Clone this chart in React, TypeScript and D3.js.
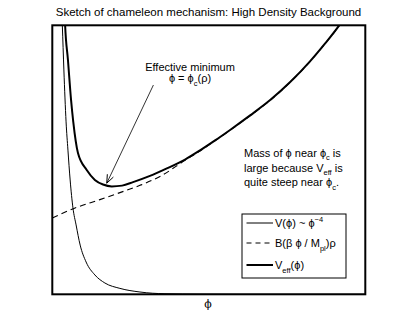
import React from "react";
import * as d3 from "d3";

// phi values (arbitrary units, 0..10) and potential values (arbitrary units, 0..10)
const vPhi = [0.30, 0.32, 0.37, 0.44, 0.50, 0.57, 0.66, 0.76, 0.89, 1.08, 1.36, 1.68, 2.16, 2.80, 3.60, 4.72, 6.0, 8.0, 10.0];
const vVal = [10.6, 10.0, 8.34, 6.41, 5.36, 4.25, 3.21, 2.58, 1.83, 1.20, 0.72, 0.42, 0.22, 0.085, 0.02, 0.005, 0.0, 0.0, 0.0];

const bPhi = [0.0, 0.69, 1.52, 2.16, 2.80, 3.44, 4.24, 4.72, 5.20, 5.68, 6.32, 6.96, 7.60, 8.24, 8.71, 9.16, 9.5];
const bVal = [2.84, 3.19, 3.52, 3.78, 4.05, 4.38, 4.98, 5.33, 5.71, 6.10, 6.64, 7.21, 7.88, 8.66, 9.31, 9.98, 10.6];

const effPhi = [0.39, 0.41, 0.50, 0.60, 0.67, 0.82, 1.10, 1.36, 1.62, 1.90, 2.23, 2.58, 3.12, 3.66, 4.24, 4.72, 5.20, 5.68, 6.32, 6.96, 7.60, 8.24, 8.71, 9.16, 9.5];
const effVal = [10.6, 10.0, 8.71, 7.22, 6.41, 5.25, 4.62, 4.25, 4.08, 4.01, 4.04, 4.17, 4.40, 4.68, 5.01, 5.35, 5.72, 6.11, 6.65, 7.22, 7.89, 8.67, 9.32, 9.99, 10.6];

// annotation arrow: from text to the effective minimum
const arrowFrom = [3.23, 7.78];
const arrowTo = [1.74, 4.13];

const title = "Sketch of chameleon mechanism: High Density Background";

export default function App() {
  const W = 403, H = 332;
  const x = d3.scaleLinear().domain([0, 10]).range([52.3, 365.3]);
  const y = d3.scaleLinear().domain([0, 10]).range([294.3, 25.3]);

  const line = d3
    .line<[number, number]>()
    .x((d) => x(d[0]))
    .y((d) => y(d[1]))
    .curve(d3.curveMonotoneX);

  const vPath = line(vPhi.map((p, i) => [p, vVal[i]]) as [number, number][]) || "";
  const bPath = line(bPhi.map((p, i) => [p, bVal[i]]) as [number, number][]) || "";
  const effPath = line(effPhi.map((p, i) => [p, effVal[i]]) as [number, number][]) || "";

  const ax0 = x(arrowFrom[0]), ay0 = y(arrowFrom[1]);
  const ax1 = x(arrowTo[0]), ay1 = y(arrowTo[1]);
  const ang = Math.atan2(ay1 - ay0, ax1 - ax0);
  const hl = 9, hw = 0.38;
  const h1 = [ax1 - hl * Math.cos(ang - hw), ay1 - hl * Math.sin(ang - hw)];
  const h2 = [ax1 - hl * Math.cos(ang + hw), ay1 - hl * Math.sin(ang + hw)];

  const font = "'Liberation Sans', Arial, Helvetica, sans-serif";
  const fs = 11;
  const phi = "\u03D5";

  const lgX = 242, lgY = 214, lgW = 104, lgH = 64;
  const rows = [223, 243, 265];

  return (
    <svg width={W} height={H} style={{ position: "absolute", left: 0, top: 0, background: "#fff" }} fontFamily={font} fill="#000">
      <defs>
        <clipPath id="plotclip">
          <rect x={x(0)} y={y(10)} width={x(10) - x(0)} height={y(0) - y(10)} />
        </clipPath>
      </defs>
      <text x={208.5} y={15.5} textAnchor="middle" fontSize={11.5}>{title}</text>

      <g clipPath="url(#plotclip)">
        <path d={bPath} fill="none" stroke="#000" strokeWidth={1.1} strokeDasharray="6,4" />
        <path d={vPath} fill="none" stroke="#000" strokeWidth={1} />
        <path d={effPath} fill="none" stroke="#000" strokeWidth={2} />
      </g>

      <rect x={x(0)} y={y(10)} width={x(10) - x(0)} height={y(0) - y(10)} fill="none" stroke="#000" strokeWidth={2} />

      {/* arrow */}
      <line x1={ax0} y1={ay0} x2={ax1} y2={ay1} stroke="#000" strokeWidth={0.8} />
      <polyline points={`${h1[0]},${h1[1]} ${ax1},${ay1} ${h2[0]},${h2[1]}`} fill="none" stroke="#000" strokeWidth={1} />

      <text x={190} y={71} textAnchor="middle" fontSize={fs}>Effective minimum</text>
      <text x={190} y={82} textAnchor="middle" fontSize={fs}>
        {phi} = {phi}
        <tspan fontSize={7.5} dy={3.5}>c</tspan>
        <tspan dy={-3.5}>(ρ)</tspan>
      </text>

      <text x={244} y={156.5} fontSize={fs}>
        Mass of {phi} near {phi}
        <tspan fontSize={7.5} dy={3.5}>c</tspan>
        <tspan dy={-3.5}> is</tspan>
      </text>
      <text x={244} y={171.5} fontSize={fs}>
        large because V
        <tspan fontSize={7.5} dy={3.5}>eff</tspan>
        <tspan dy={-3.5}> is</tspan>
      </text>
      <text x={244} y={186} fontSize={fs}>
        quite steep near {phi}
        <tspan fontSize={7.5} dy={3.5}>c</tspan>
        <tspan dy={-3.5}>.</tspan>
      </text>

      {/* legend */}
      <rect x={lgX} y={lgY} width={lgW} height={lgH} fill="#fff" stroke="#000" strokeWidth={1} />
      <line x1={246.5} x2={273} y1={rows[0]} y2={rows[0]} stroke="#000" strokeWidth={1} />
      <line x1={246.5} x2={273} y1={rows[1]} y2={rows[1]} stroke="#000" strokeWidth={1.1} strokeDasharray="5,4" />
      <line x1={246.5} x2={273} y1={rows[2]} y2={rows[2]} stroke="#000" strokeWidth={2} />
      <text x={275} y={rows[0] + 4} fontSize={fs}>
        V({phi}) ~ {phi}
        <tspan fontSize={7.5} dy={-5}>−4</tspan>
      </text>
      <text x={275} y={rows[1] + 4} fontSize={fs}>
        B(β {phi} / M
        <tspan fontSize={7.5} dy={3.5}>pl</tspan>
        <tspan dy={-3.5}>)ρ</tspan>
      </text>
      <text x={275} y={rows[2] + 4} fontSize={fs}>
        V
        <tspan fontSize={7.5} dy={3.5}>eff</tspan>
        <tspan dy={-3.5}>({phi})</tspan>
      </text>

      <text x={208} y={308} textAnchor="middle" fontSize={11} fill="#000" fontFamily="'DejaVu Serif', serif">{phi}</text>
    </svg>
  );
}
